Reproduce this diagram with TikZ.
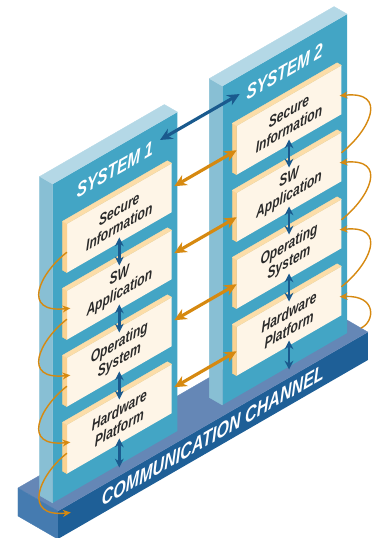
\documentclass[tikz,border=0pt]{standalone}
\usepackage{fontspec}
\newfontfamily\diagfont[FakeStretch=0.88]{Liberation Sans}
\usetikzlibrary{positioning,calc,arrows.meta}

\definecolor{panelfront}{HTML}{43A5C5}
\definecolor{panelside}{HTML}{88BFD4}
\definecolor{paneltop}{HTML}{B4D8E6}
\definecolor{boxfront}{HTML}{FEF5E7}
\definecolor{boxside}{HTML}{FBD291}
\definecolor{boxtop}{HTML}{FCDDA8}
\definecolor{basetop}{HTML}{6587B6}
\definecolor{basefront}{HTML}{1E5F97}
\definecolor{baseleft}{HTML}{457BB0}
\definecolor{linkblue}{HTML}{1A5A8E}
\definecolor{linkorange}{HTML}{D68910}
\definecolor{labeltext}{HTML}{2A2A2A}

\begin{document}
\begin{tikzpicture}[
    x={(0.01732cm,0.01cm)}, y={(0cm,0.02cm)}, z={(0.01732cm,-0.01cm)},
    iso/.style={cm={0.866,0.5,0,1,(0,0)}, inner sep=0pt, outer sep=0pt},
    panel/.style={iso, fill=panelfront, minimum width=2.88cm, minimum height=6.38cm},
    layerbox/.style={iso, fill=boxfront, minimum width=2.42cm, minimum height=0.98cm,
        align=center, text=labeltext, font=\diagfont\bfseries\itshape\fontsize{9}{10}\selectfont},
    syslabel/.style={iso, text=white, font=\diagfont\bfseries\itshape\fontsize{11.5}{12}\selectfont},
    channel/.style={iso, fill=basefront, minimum width=7.16cm, minimum height=0.56cm,
        text=white, font=\diagfont\bfseries\itshape\fontsize{12}{12}\selectfont},
    face/.style={fill=#1, draw=#1, line width=0.2pt, line join=round},
    updown/.style={linkblue, line width=1.5pt, {Stealth[length=5pt,width=5pt]}-{Stealth[length=5pt,width=5pt]}},
    peer/.style={linkorange, line width=1.8pt, {Stealth[length=7pt,width=6.5pt]}-{Stealth[length=7pt,width=6.5pt]}},
    syslink/.style={peer, linkblue},
    hookarrow/.style={linkorange, line width=0.8pt, -{Stealth[length=4.5pt,width=4pt]}},
    hookleft/.style={out=218, in=186, out distance=0.71cm, in distance=0.99cm},
    hookright/.style={out=38, in=6, out distance=0.71cm, in distance=0.99cm}
]
    \useasboundingbox (-0.36cm,-1cm) rectangle (7.36cm,9.76cm);

    % base slab
    \node[channel] (chan) at (179,-14,46) {COMMUNICATION CHANNEL};
    \fill[face=basetop] (chan.north west) -- (chan.north east) -- ++(0,0,-46) -- ++(-358,0,0) -- cycle;
    \fill[face=baseleft] (chan.north west) -- (chan.south west) -- ++(0,0,-46) -- ++(0,28,0) -- cycle;

    % the two systems
    \node[panel] (p1) at (77,159.5,35) {};
    \node[panel] (p2) at (273,159.5,35) {};
    \foreach \p in {p1,p2} {
        \fill[face=panelside] (\p.north west) -- (\p.south west) -- ++(0,0,-15) -- ++(0,319,0) -- cycle;
        \fill[face=paneltop] (\p.north west) -- ++(0,0,-15) -- ++(144,0,0) -- (\p.north east) -- cycle;
    }

    \node[layerbox] (a1) at (77,251.5,40) {Secure\\Information};
    \node[layerbox, below=0.36cm of a1] (a2) {SW\\Application};
    \node[layerbox, below=0.36cm of a2] (a3) {Operating\\System};
    \node[layerbox, below=0.36cm of a3] (a4) {Hardware\\Platform};
    \node[layerbox] (b1) at (273,251.5,40) {Secure\\Information};
    \node[layerbox, below=0.36cm of b1] (b2) {SW\\Application};
    \node[layerbox, below=0.36cm of b2] (b3) {Operating\\System};
    \node[layerbox, below=0.36cm of b3] (b4) {Hardware\\Platform};
    \foreach \b in {a1,a2,a3,a4,b1,b2,b3,b4} {
        \fill[face=boxside] (\b.north west) -- (\b.south west) -- ++(0,0,-5) -- ++(0,49,0) -- cycle;
        \fill[face=boxtop] (\b.north west) -- ++(0,0,-5) -- ++(121,0,0) -- (\b.north east) -- cycle;
    }

    \node[syslabel] (s1) at (77,297.5,35) {SYSTEM 1};
    \node[syslabel] (s2) at (273,297.5,35) {SYSTEM 2};

    % links between the systems
    \draw[syslink] ($(p1.north east)+(-20,-18,0)$) -- ($(p2.north west)+(20,-18,0)$);
    \draw[peer] ($(a1.east)+(3,0,0)$) -- (b1.west);
    \draw[peer] ($(a2.east)+(3,0,0)$) -- (b2.west);
    \draw[peer] ($(a3.east)+(3,0,0)$) -- (b3.west);
    \draw[peer] ($(a4.east)+(3,0,0)$) -- (b4.west);

    % links inside each system
    \draw[updown] ($(a1.south)+(0,5,0)$) -- ($(a2.north)+(0,-5,0)$);
    \draw[updown] ($(a2.south)+(0,5,0)$) -- ($(a3.north)+(0,-5,0)$);
    \draw[updown] ($(a3.south)+(0,5,0)$) -- ($(a4.north)+(0,-5,0)$);
    \draw[updown] ($(a4.south)+(0,5,0)$) -- ($(a4.south)+(0,-24,0)$);
    \draw[updown] ($(b1.south)+(0,5,0)$) -- ($(b2.north)+(0,-5,0)$);
    \draw[updown] ($(b2.south)+(0,5,0)$) -- ($(b3.north)+(0,-5,0)$);
    \draw[updown] ($(b3.south)+(0,5,0)$) -- ($(b4.north)+(0,-5,0)$);
    \draw[updown] ($(b4.south)+(0,5,0)$) -- ($(b4.south)+(0,-24,0)$);

    % flow down the left side, up the right side
    \draw[hookarrow] ($(a1.west)+(0,-4,0)$) to[hookleft] ($(a2.west)+(4,5,0)$);
    \draw[hookarrow] ($(a2.west)+(0,-4,0)$) to[hookleft] ($(a3.west)+(4,5,0)$);
    \draw[hookarrow] ($(a3.west)+(0,-4,0)$) to[hookleft] ($(a4.west)+(4,5,0)$);
    \draw[hookarrow] ($(a4.west)+(0,-4,0)$) to[hookleft] ($(chan.north west)+(15,-9,0)$);
    \draw[hookarrow] ($(b2.east)+(0,4,0)$) to[hookright] ($(b1.east)+(-2,-5,0)$);
    \draw[hookarrow] ($(b3.east)+(0,4,0)$) to[hookright] ($(b2.east)+(-2,-5,0)$);
    \draw[hookarrow] ($(b4.east)+(0,4,0)$) to[hookright] ($(b3.east)+(-2,-5,0)$);
    \draw[hookarrow] ($(chan.north east)+(0,0,-8)$) to[out=23, in=3, out distance=0.3cm, in distance=0.76cm] ($(b4.east)+(-2,-5,0)$);
\end{tikzpicture}
\end{document}
